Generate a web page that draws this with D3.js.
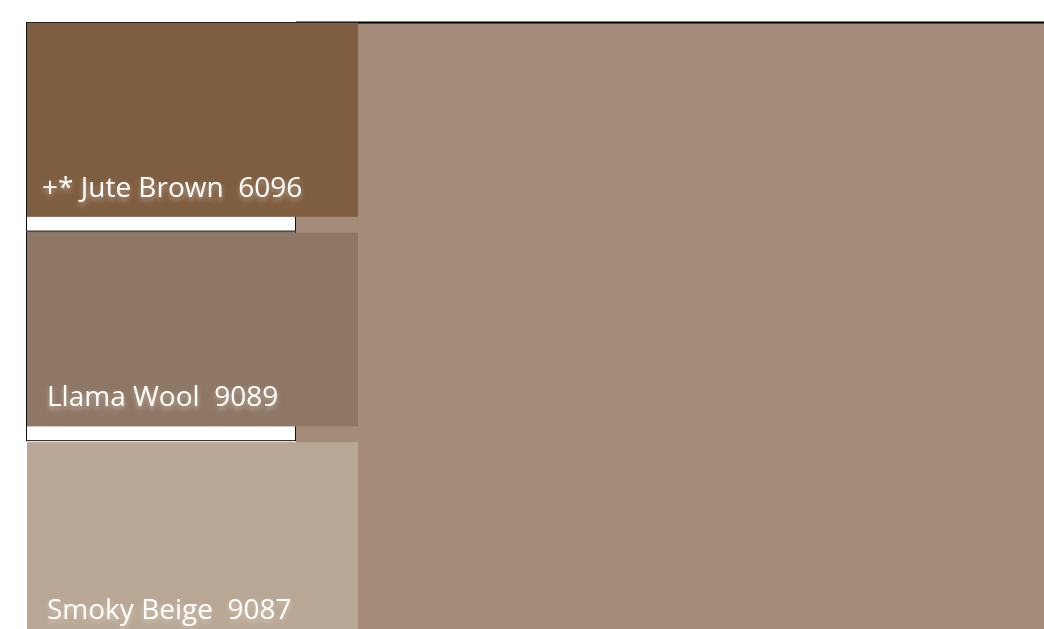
<!DOCTYPE html>
<html>
<head>
<meta charset="utf-8">
<script src="https://cdn.jsdelivr.net/npm/d3@7"></script>
<style>
  html, body { margin: 0; padding: 0; background: #ffffff; }
  svg { display: block; }
</style>
</head>
<body>
<svg id="chart" width="1044" height="629"></svg>
<script>
// ---- data ----
const swatchNames  = ["+* Jute Brown", "Llama Wool", "Smoky Beige"];
const swatchCodes  = ["6096", "9089", "9087"];
const swatchColors = ["#7f5d40", "#8f7765", "#b8a794"];
const featureColor = "#a58c7a";

// ---- layout ----
const W = 1044, H = 629;
const topY = 22, leftX = 26;
const swatchRight = 358, cardRight = 295, featureLeft = 296;

const svg = d3.select("#chart");

const y = d3.scaleBand()
  .domain(swatchNames)
  .range([topY + 1, H + 7])
  .paddingInner(0.075)
  .paddingOuter(0);

const x = d3.scaleLinear().domain([0, 1]).range([leftX, swatchRight]);

// glow filter for labels
const defs = svg.append("defs");
const f = defs.append("filter").attr("id", "glow")
  .attr("x", "-10%").attr("y", "-40%").attr("width", "120%").attr("height", "190%");
f.append("feGaussianBlur").attr("in", "SourceAlpha").attr("stdDeviation", 2.4).attr("result", "b");
f.append("feOffset").attr("in", "b").attr("dy", 2.5).attr("result", "o");
f.append("feFlood").attr("flood-color", "#f3e6d8").attr("flood-opacity", 0.5).attr("result", "c");
f.append("feComposite").attr("in", "c").attr("in2", "o").attr("operator", "in").attr("result", "g");
const m = f.append("feMerge");
m.append("feMergeNode").attr("in", "g");
m.append("feMergeNode").attr("in", "SourceGraphic");

// large feature panel
svg.append("rect")
  .attr("x", featureLeft).attr("y", topY)
  .attr("width", W - featureLeft).attr("height", H - topY)
  .attr("fill", featureColor);
svg.append("line")
  .attr("x1", featureLeft).attr("x2", W)
  .attr("y1", topY + 0.5).attr("y2", topY + 0.5)
  .attr("stroke", "#000").attr("stroke-width", 2);

// white cards behind swatches (visible in the gaps)
const names = swatchNames;
svg.selectAll("rect.card")
  .data(names.slice(0, -1))
  .join("rect")
  .attr("class", "card")
  .attr("x", leftX + 0.5)
  .attr("y", d => y(d) - 0.5)
  .attr("width", cardRight - leftX)
  .attr("height", (d, i) => y(names[i + 1]) - y(d) - 1)
  .attr("fill", "#ffffff")
  .attr("stroke", "#111")
  .attr("stroke-width", 1);

// swatches
svg.selectAll("rect.swatch")
  .data(names)
  .join("rect")
  .attr("class", "swatch")
  .attr("x", x(0) + 1)
  .attr("y", d => y(d))
  .attr("width", x(1) - x(0) - 1)
  .attr("height", y.bandwidth())
  .attr("fill", (d, i) => swatchColors[i]);

// left border line of swatch column
svg.selectAll("line.edge")
  .data(names.slice(0, -1))
  .join("line")
  .attr("class", "edge")
  .attr("x1", leftX + 0.5).attr("x2", leftX + 0.5)
  .attr("y1", d => y(d) - 0.5)
  .attr("y2", d => y(d) + y.bandwidth())
  .attr("stroke", "#111");
svg.append("line")
  .attr("x1", leftX).attr("x2", swatchRight)
  .attr("y1", topY + 0.5).attr("y2", topY + 0.5)
  .attr("stroke", "#222").attr("stroke-width", 1);

// labels
svg.selectAll("text.label")
  .data(names)
  .join("text")
  .attr("class", "label")
  .attr("x", (d, i) => i === 0 ? 42 : 47)
  .attr("y", (d, i) => y(d) + y.bandwidth() - (i === 2 ? 17 : 20))
  .attr("fill", "#ffffff")
  .attr("font-family", "'Open Sans', 'Noto Sans', sans-serif")
  .attr("font-size", 28)
  .attr("filter", "url(#glow)")
  .style("white-space", "pre")
  .text((d, i) => d + "  " + swatchCodes[i]);
</script>
</body>
</html>
